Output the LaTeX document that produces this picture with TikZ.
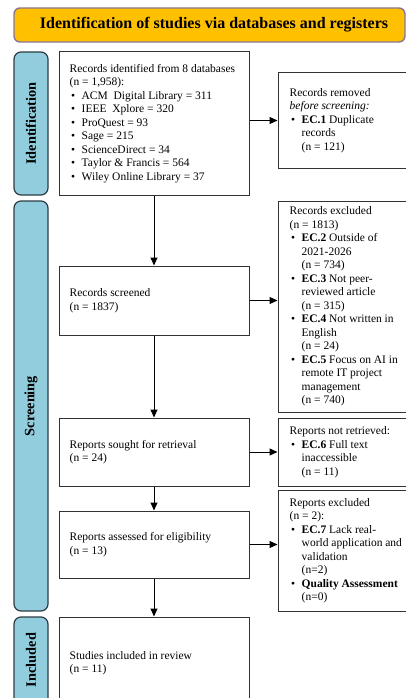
\documentclass[tikz,border=0pt]{standalone}
\usepackage{fontspec}
\setmainfont{Liberation Serif}
\usetikzlibrary{arrows.meta,calc}
\definecolor{hdrfill}{RGB}{255,192,0}
\definecolor{hdrline}{RGB}{138,118,150}
\definecolor{sidefill}{RGB}{146,205,221}
\definecolor{sideline}{RGB}{45,60,70}
\definecolor{boxline}{RGB}{50,50,50}
\newcommand{\bul}{\makebox[12pt][l]{\hspace{1.5pt}\textbullet}}
\newcommand{\ind}{\hspace*{12pt}}
\begin{document}
\begin{tikzpicture}[x=1pt,y=-1pt,
  hdr/.style={draw=hdrline,fill=hdrfill,line width=1.4pt,rounded corners=6pt,inner sep=0pt},
  side/.style={draw=sideline,fill=sidefill,line width=1.2pt,rounded corners=7pt,inner sep=0pt,minimum width=34pt},
  sidelab/.style={rotate=90,font=\fontsize{14.3}{16}\selectfont\bfseries,inner sep=0pt},
  box/.style={draw=boxline,line width=1pt,fill=white,inner sep=0pt},
  txt/.style={align=left,inner sep=0pt,anchor=west,font=\fontsize{11.5}{13.5}\selectfont},
  arr/.style={draw=black,line width=1pt,-{Triangle[length=8pt,width=7pt]}}
]
\useasboundingbox (0,0) rectangle (406,698);
\clip (0,0) rectangle (406,698);

% header
\node[hdr,minimum width=391pt,minimum height=34pt] (hdr) at (209.5,25) {};
\node[inner sep=0pt,font=\fontsize{16}{18}\selectfont\bfseries] (title) at (214,25) {Identification of studies via databases and registers};

% side boxes
\node[side,minimum height=143pt] (sid) at (31,123.5) {};
\node[sidelab] (sidl) at (sid.center) {Identification};
\node[side,minimum height=410pt] (sscr) at (31,406) {};
\node[sidelab] (sscrl) at (sscr.center) {Screening};
\node[side,minimum height=100pt] (sinc) at (31,667) {};
\node[sidelab] (sincl) at (31,660) {Included};

% main boxes
\node[box,minimum width=190pt,minimum height=143pt] (id) at (154,123.5) {};
\node[txt] (idt) at ([xshift=11pt]id.west) {Records identified from 8 databases\\(n = 1,958):\\
\bul ACM\ \ Digital Library = 311\\
\bul IEEE\ \ Xplore = 320\\
\bul ProQuest = 93\\
\bul Sage = 215\\
\bul ScienceDirect = 34\\
\bul Taylor \& Francis = 564\\
\bul Wiley Online Library = 37};

\node[box,minimum width=190pt,minimum height=69pt] (scr) at (154,300.5) {};
\node[txt] (scrt) at ([xshift=11pt]scr.west) {Records screened\\(n = 1837)};

\node[box,minimum width=190pt,minimum height=68pt] (sou) at (154,452) {};
\node[txt] (sout) at ([xshift=11pt]sou.west) {Reports sought for retrieval\\(n = 24)};

\node[box,minimum width=190pt,minimum height=67pt] (ass) at (154,544.5) {};
\node[txt] (asst) at ([xshift=11pt]ass.west) {Reports assessed for eligibility\\(n = 13)};

\node[box,minimum width=190pt,minimum height=92pt] (inc) at (154,663) {};
\node[txt] (inct) at ([xshift=11pt]inc.west) {Studies included in review\\(n = 11)};

% right boxes
\node[box,minimum width=136pt,minimum height=95pt] (rem) at (346,120.5) {};
\node[txt] (remt) at ([xshift=12pt]rem.west) {Records removed\\\textit{before screening:}\\
\bul\textbf{EC.1} Duplicate\\\ind records\\\ind (n = 121)};

\node[box,minimum width=136pt,minimum height=211pt] (exc) at (346,306.5) {};
\node[txt] (exct) at ([xshift=12pt]exc.west) {Records excluded\\(n = 1813)\\
\bul\textbf{EC.2} Outside of\\\ind 2021-2026\\\ind (n = 734)\\
\bul\textbf{EC.3} Not peer-\\\ind reviewed article\\\ind (n = 315)\\
\bul\textbf{EC.4} Not written in\\\ind English\\\ind (n = 24)\\
\bul\textbf{EC.5} Focus on AI in\\\ind remote IT project\\\ind management\\\ind (n = 740)};

\node[box,minimum width=136pt,minimum height=68pt] (ret) at (346,452) {};
\node[txt] (rett) at ([xshift=12pt]ret.west) {Reports not retrieved:\\
\bul\textbf{EC.6} Full text\\\ind inaccessible\\\ind (n = 11)};

\node[box,minimum width=136pt,minimum height=121pt] (rex) at (346,550.5) {};
\node[txt] (rext) at ([xshift=12pt]rex.west) {Reports excluded\\(n = 2):\\
\bul\textbf{EC.7} Lack real-\\\ind world application and\\\ind validation\\\ind (n=2)\\
\bul\textbf{Quality Assessment}\\\ind (n=0)};

% arrows
\draw[arr] (id.south) -- (scr.north);
\draw[arr] (scr.south) -- (sou.north);
\draw[arr] (sou.south) -- (ass.north);
\draw[arr] (ass.south) -- (inc.north);
\draw[arr] (id.east |- rem.west) -- (rem.west);
\draw[arr] (scr.east) -- (exc.west |- scr.east);
\draw[arr] (sou.east) -- (ret.west);
\draw[arr] (ass.east) -- (rex.west |- ass.east);
\end{tikzpicture}
\end{document}
